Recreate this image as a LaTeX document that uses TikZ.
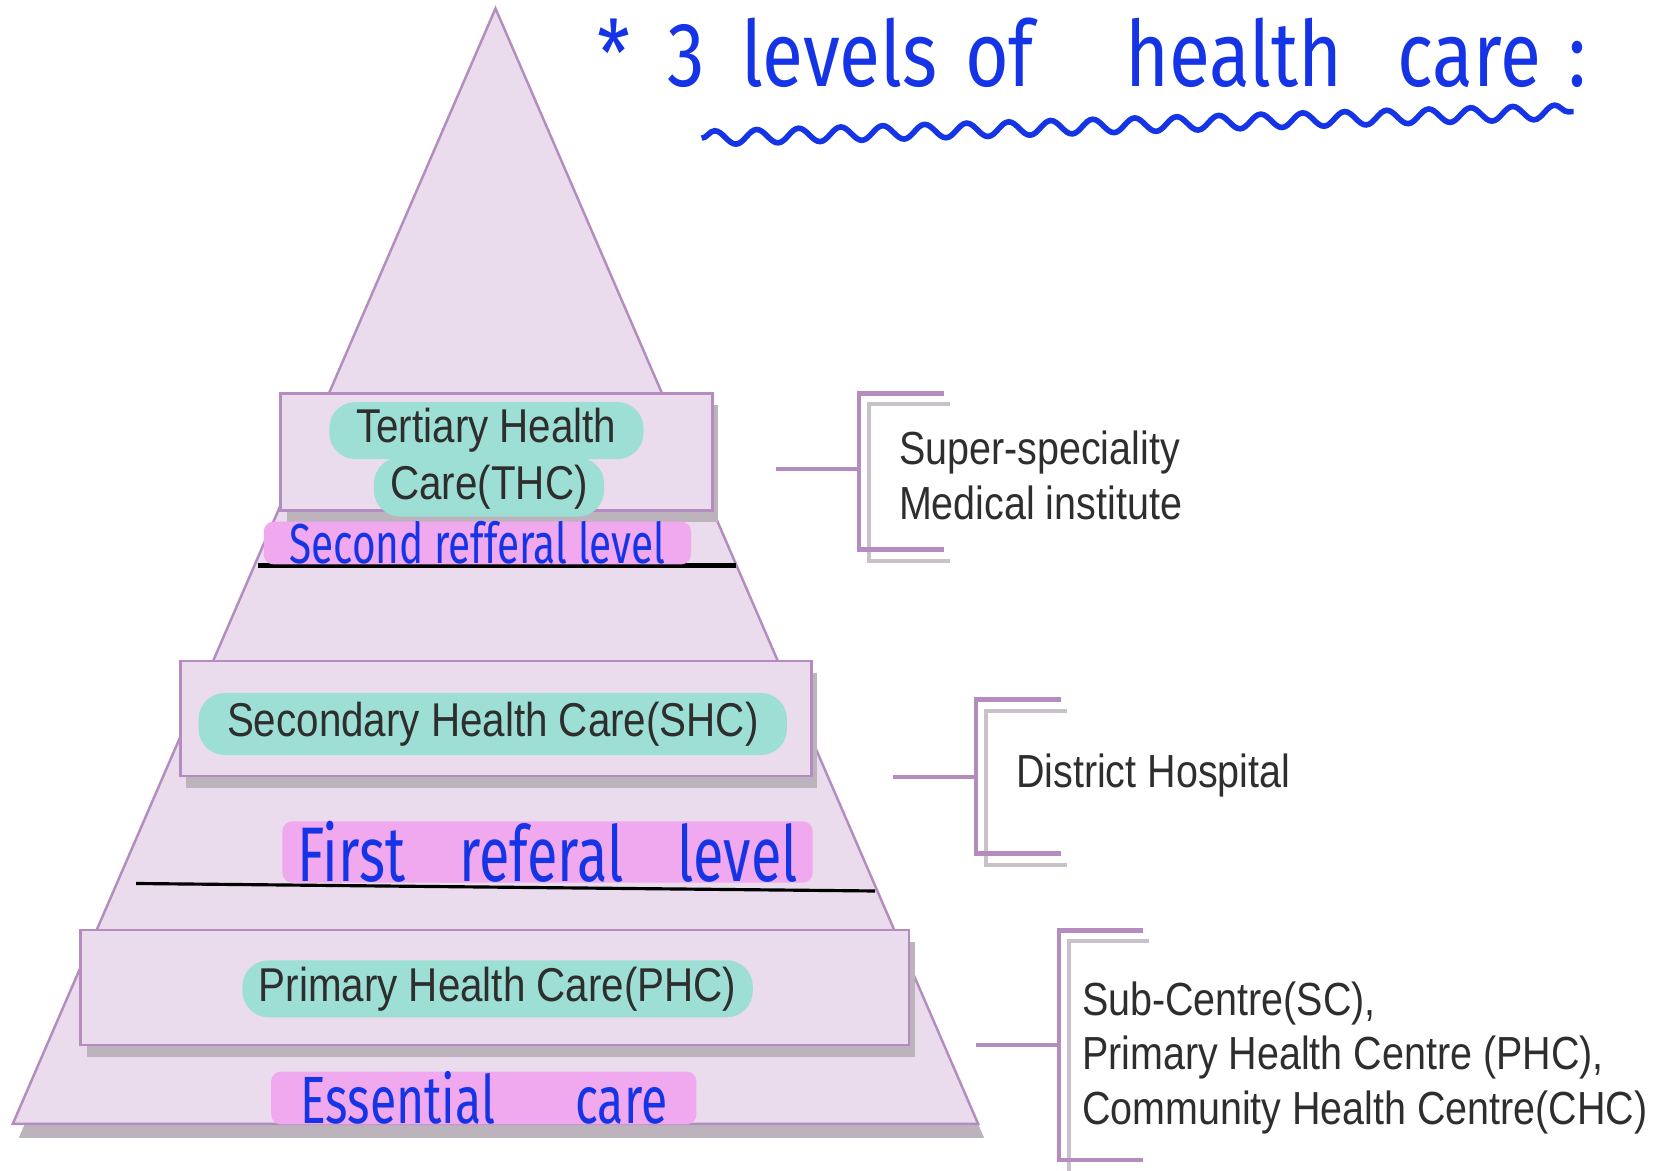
\documentclass[tikz,border=0pt]{standalone}
\usepackage{fontspec}
\setmainfont{Liberation Sans}
\newfontfamily\boxfont{Liberation Sans}[FakeStretch=0.85]
\newfontfamily\handfont{Fira Sans}[FakeStretch=0.72]
\newfontfamily\titlefont{Fira Sans}[FakeStretch=0.82]
\usepackage{tikz}
\usetikzlibrary{arrows,shapes,positioning}
\usetikzlibrary{calc}
\usetikzlibrary{shadows,decorations.pathmorphing}

\definecolor{pyrfill}{HTML}{EADCEC}
\definecolor{pyrline}{HTML}{B48CC0}
\definecolor{shade}{HTML}{BDB3BD}
\definecolor{pillteal}{HTML}{9DDFD4}
\definecolor{markpink}{HTML}{F0A8EE}
\definecolor{pen}{HTML}{1434E6}
\definecolor{txtgray}{HTML}{2E2E2E}

\begin{document}
\begin{tikzpicture}[x=0.01cm,y=-0.01cm,
	level/.style={rectangle,draw=pyrline,fill=pyrfill,line width=0.7pt,inner sep=0pt,
		drop shadow={shadow xshift=0.06cm,shadow yshift=-0.12cm,fill=shade,opacity=1}},
	pill/.style={rectangle,fill=pillteal,rounded corners=0.26cm,inner sep=0pt,
		text=txtgray,font=\boxfont\fontsize{13.5}{15}\selectfont},
	note/.style={anchor=west,inner sep=0pt,align=left,text=txtgray,
		font=\boxfont\fontsize{13.2}{15.5}\selectfont},
	hand/.style={fill=markpink,rounded corners=0.1cm,text=pen,inner xsep=0.1cm,inner ysep=0pt},
	brk/.style={draw=pyrline,line width=1.3pt},
	brkshade/.style={draw=shade!80,line width=1.1pt},
	rule/.style={draw=black,line width=1.2pt}]
	\useasboundingbox (0,0) rectangle (1667,1171);

	% pyramid
	\coordinate (apex) at (495.5,8.5);
	\coordinate (bl) at (12.8,1123.8);
	\coordinate (br) at (978.1,1123.8);
	\draw[draw=pyrline,fill=pyrfill,line width=0.7pt,
		drop shadow={shadow xshift=0.06cm,shadow yshift=-0.14cm,fill=shade,opacity=1}]
		(apex) -- (bl) -- (br) -- cycle;

	% referral lines
	\coordinate (sl1) at (258.4,565.6);
	\coordinate (sl2) at (735.7,565.6);
	\coordinate (fl1) at (136.1,883.5);
	\coordinate (fl2) at (875,891);
	\draw[rule] (sl1) -- (sl2);
	\draw[rule,line width=0.9pt] (fl1) -- (fl2);

	% levels
	\node[level,minimum width=4.316cm,minimum height=1.169cm] (thc) at (496.5,451.9) {};
	\node[level,minimum width=6.305cm,minimum height=1.148cm] (shc) at (495.9,718.7) {};
	\node[level,minimum width=8.282cm,minimum height=1.148cm] (phc) at (494.9,987.7) {};

	\node[pill,minimum width=3.14cm,minimum height=0.57cm] (tert) at (486.4,430.6) {Tertiary Health};
	\node[pill,minimum width=2.30cm,minimum height=0.59cm] (care) at (489,487) {Care(THC)};
	\node[pill,minimum width=5.88cm,minimum height=0.62cm] (sec) at (492.8,724) {Secondary Health Care(SHC)};
	\node[pill,minimum width=5.10cm,minimum height=0.57cm] (prim) at (497.6,988.8) {Primary Health Care(PHC)};

	% brackets
	\coordinate (b1s) at (776.1,468.9);
	\coordinate (b1t) at (859.1,393.4);
	\coordinate (b1b) at (859.1,549.7);
	\coordinate (b1te) at (944.1,393.4);
	\coordinate (b1be) at (944.1,549.7);
	\draw[brkshade] ($(b1te)+(6,11)$) -- ($(b1t)+(10,11)$) -- ($(b1b)+(10,11)$) -- ($(b1be)+(6,11)$);
	\draw[brk] (b1te) -- (b1t) -- (b1b) -- (b1be);
	\draw[brk] (b1s) -- (b1s -| b1t);

	\coordinate (b2s) at (893,777.2);
	\coordinate (b2t) at (976,699.6);
	\coordinate (b2b) at (976,853.7);
	\coordinate (b2te) at (1061.1,699.6);
	\coordinate (b2be) at (1061.1,853.7);
	\draw[brkshade] ($(b2te)+(6,11)$) -- ($(b2t)+(10,11)$) -- ($(b2b)+(10,11)$) -- ($(b2be)+(6,11)$);
	\draw[brk] (b2te) -- (b2t) -- (b2b) -- (b2be);
	\draw[brk] (b2s) -- (b2s -| b2t);

	\coordinate (b3s) at (976,1045.1);
	\coordinate (b3t) at (1058.9,930.3);
	\coordinate (b3b) at (1058.9,1160);
	\coordinate (b3te) at (1142.9,930.3);
	\coordinate (b3be) at (1142.9,1160);
	\draw[brkshade] ($(b3te)+(6,11)$) -- ($(b3t)+(10,11)$) -- ($(b3b)+(10,11)$);
	\draw[brk] (b3te) -- (b3t) -- (b3b) -- (b3be);
	\draw[brk] (b3s) -- (b3s -| b3t);

	\node[note] (supsp) at (898.4,475.3) {Super-speciality\\Medical institute};
	\node[note] (dist) at (1015.4,775.1) {District Hospital};
	\node[note] (subc) at (1081.3,1057.9) {Sub-Centre(SC),\\Primary Health Centre (PHC),\\Community Health Centre(CHC)};

	% handwriting
	\node[hand,font=\handfont\fontsize{16}{16}\selectfont,minimum width=4.27cm,minimum height=0.34cm] (second) at (477.4,543) {Second refferal level};
	\node[hand,font=\handfont\fontsize{22}{22}\selectfont,minimum width=5.3cm,minimum height=0.5cm] (first) at (547.5,852) {First\hspace{0.7em}referal\hspace{0.7em}level};
	\node[hand,font=\handfont\fontsize{19}{19}\selectfont,minimum width=4.25cm,minimum height=0.46cm] (essent) at (483.8,1098) {Essential\hspace{1.2em}care};
	\node[anchor=base west,inner sep=0pt,text=pen,font=\titlefont\fontsize{26}{26}\selectfont] (title) at (597,87)
		{*\hspace{0.4em}3\hspace{0.4em}levels\hspace{0.3em}of\hspace{1em}health\hspace{0.6em}care\hspace{0.3em}:};
	\coordinate (ul1) at (701.7,138.2);
	\coordinate (ul2) at (1573.6,111.6);
	\draw[pen,line width=1.6pt,decorate,decoration={snake,amplitude=0.07cm,segment length=0.42cm}] (ul1) -- (ul2);
\end{tikzpicture}
\end{document}
